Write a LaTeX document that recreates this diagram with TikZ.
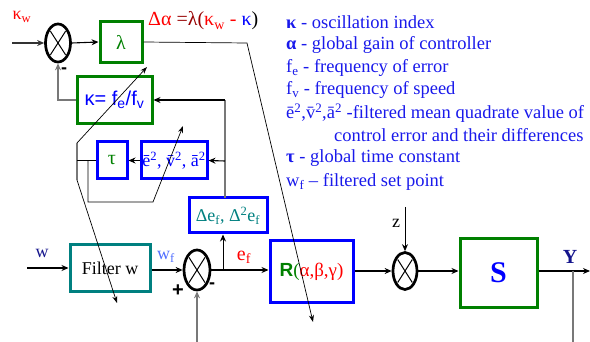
\documentclass[tikz,border=0pt]{standalone}
\usepackage{fontspec}
\setmainfont{Liberation Serif}
\newfontfamily\sansf{Liberation Sans}
\usetikzlibrary{arrows.meta,shapes.geometric,calc}
\definecolor{cgreen}{RGB}{0,128,0}
\definecolor{cteal}{RGB}{0,128,128}
\definecolor{cblue}{RGB}{0,0,255}
\definecolor{lgblue}{RGB}{25,25,235}
\definecolor{cred}{RGB}{255,0,0}
\definecolor{cdred}{RGB}{150,0,0}
\definecolor{cnavy}{RGB}{20,20,140}
\definecolor{clblue}{RGB}{80,110,255}
\definecolor{cgray}{RGB}{120,120,120}
\begin{document}
\begin{tikzpicture}[x=1pt,y=-1pt,
  >={Stealth[length=7pt,width=6pt]},
  every node/.style={inner sep=0pt},
  sumnode/.style={ellipse,draw,line width=2.7pt,minimum width=25pt,minimum height=38pt},
  blk/.style={draw,line width=3pt,font=\fontsize{18}{20}\selectfont},
  gbox/.style={blk,draw=cgreen},
  bbox/.style={blk,draw=cblue},
  conn/.style={line width=1.1pt,->},
  gline/.style={line width=1.1pt,draw=cgray},
  adj/.style={line width=0.7pt,->,>={Stealth[length=7pt,width=5pt]}},
  lg/.style={anchor=west,text=lgblue,font=\fontsize{18.5}{20}\selectfont},
  lab/.style={font=\fontsize{18}{20}\selectfont}]
\useasboundingbox (0,0) rectangle (590,342);

% ---------- top loop ----------
\node[lab,text=cred] (kw) at (22,17) {κ\textsubscript{w}};
\coordinate (kin) at (12,43);
\node[sumnode] (s1) at (58,43) {};
\node[gbox,minimum width=42pt,minimum height=41pt,text=cgreen,font=\fontsize{20}{22}\selectfont] (lam) at (121,42) {λ};
\node[anchor=west,font=\fontsize{20}{22}\selectfont] (form) at (148,21)
  {\textcolor{cred}{Δα} \textcolor{cdred}{=λ(}\textcolor{cred}{κ\textsubscript{w} -} \textcolor{cblue}{κ})};
\node[gbox,minimum width=75pt,minimum height=47pt,text=cblue,font=\sansf\fontsize{20}{22}\selectfont] (kap) at (114.5,100) {κ= f\textsubscript{e}/f\textsubscript{v}};
\node[font=\sansf\bfseries\fontsize{18}{20}\selectfont] (minus1) at (64,71) {-};

\node[bbox,minimum width=30pt,minimum height=37pt,text=cgreen,font=\fontsize{20}{22}\selectfont] (tau) at (112,160.5) {τ};
\node[bbox,minimum width=66pt,minimum height=37pt,text=cblue] (e2) at (174,160.5) {ē\textsuperscript{2}, v̄\textsuperscript{2}, ā\textsuperscript{2}};
\node[bbox,minimum width=78pt,minimum height=35pt,text=cteal] (de) at (228,215.5) {Δe\textsubscript{f}, Δ\textsuperscript{2}e\textsubscript{f}};

% ---------- main loop ----------
\node[lab,text=cnavy] (wl) at (42,253) {w};
\coordinate (win) at (27,268);
\node[blk,draw=cteal,minimum width=80pt,minimum height=47pt] (filt) at (110,268) {Filter w};
\node[lab,text=clblue] (wf) at (166,257) {w\textsubscript{f}};
\node[sumnode,minimum width=26pt,minimum height=40pt] (s2) at (197,270) {};
\node[font=\sansf\bfseries\fontsize{20}{22}\selectfont] (plus) at (178,291) {+};
\node[font=\sansf\bfseries\fontsize{18}{20}\selectfont] (minus2) at (212,286) {-};
\coordinate (s2in) at (197,342);
\node[font=\fontsize{20}{22}\selectfont,text=cred] (ef) at (244,257) {e\textsubscript{f}};
\node[bbox,minimum width=83pt,minimum height=62pt,font=\fontsize{19}{21}\selectfont] (R) at (311.5,272)
  {{\sansf\bfseries\textcolor{cgreen}{R}}\textcolor{cgreen}{(}\textcolor{cred}{α,β,γ)}};
\node[sumnode,minimum width=24pt,minimum height=37pt] (s3) at (405,271) {};
\node[lab] (z) at (396,223) {z};
\coordinate (zin) at (405,207);
\node[gbox,minimum width=77pt,minimum height=69pt,text=cblue,font=\bfseries\fontsize{30}{32}\selectfont] (S) at (498.5,273) {S};
\coordinate (yout) at (590,271);
\node[text=cnavy,font=\bfseries\fontsize{20}{22}\selectfont] (Y) at (570,257) {Y};
\coordinate (ytap) at (573,271);
\coordinate (ybot) at (573,342);

% crosses in summing points
\foreach \s/\a/\b in {s1/7.6/11.8, s2/8/12.6, s3/7.3/11.5}{
  \draw[line width=1pt] ($(\s.center)+(-\a,-\b)$) -- ($(\s.center)+(\a,\b)$)
                        ($(\s.center)+(-\a,\b)$) -- ($(\s.center)+(\a,-\b)$);
}

% ---------- connectors ----------
\draw[conn,draw=black!80] (kin) -- (s1.west);
\draw[conn] (s1.east) -- (lam.west);
\coordinate (dbend) at (247,43);
\coordinate (dend) at (313,322);
\draw[adj] (lam.east) -- (dbend) -- (dend);
\draw[gline,->] (kap.west) -| (s1.south);

\coordinate (vtop) at (225,100);
\coordinate (vmid) at (225,161);
\coordinate (vbot) at (225,198);
\draw[gline] (vbot) -- (vtop);
\draw[line width=1.1pt,->] (vtop) -- (kap.east);
\draw[line width=1.1pt,->] (vmid) -- (e2.east);
\draw[line width=1.1pt,->] (e2.west) -- (tau.east);

\coordinate (ja) at (77,143);
\coordinate (jb) at (77,180);
\coordinate (jm) at (77,160.5);
\coordinate (jc) at (88,160.5);
\draw[gline] (ja) -- (jb);
\draw[line width=0.8pt] (tau.west) -- (jm);
\draw[adj] (ja) -- (147,67);
\draw[adj] (jb) -- (117,303);
\draw[adj] (jc) -- (88,202) -- (153,202) -- (183,126);

\draw[conn] (win) -- (filt.west);
\draw[conn] (filt.east |- s2.west) -- (s2.west);
\draw[gline,->] (s2in) -- (s2.south);
\draw[conn] (s2.east) -- (s2.east -| R.west);
\coordinate (etap) at (223,270);
\draw[line width=1pt,->] (etap) -- (etap |- de.south);
\draw[conn] (R.east |- s3.west) -- (s3.west);
\draw[line width=0.9pt,->] (zin) -- (s3.north);
\draw[conn] (s3.east) -- (s3.east -| S.west);
\draw[conn] (S.east |- yout) -- (yout);
\draw[gline] (ytap) -- (ybot);

% ---------- legend ----------
\node[lg] (l1) at (286,22) {{\bfseries κ} - oscillation index};
\node[lg] (l2) at (286,45) {{\bfseries α} - global gain of controller};
\node[lg] (l3) at (286,68) {f\textsubscript{e} - frequency of error};
\node[lg] (l4) at (286,90) {f\textsubscript{v} - frequency of speed};
\node[lg] (l5) at (286,113) {ē\textsuperscript{2},v̄\textsuperscript{2},ā\textsuperscript{2} -filtered mean quadrate value of};
\node[lg] (l6) at (334,135) {control error and their differences};
\node[lg] (l7) at (286,158) {{\bfseries τ} - global time constant};
\node[lg] (l8) at (286,182) {w\textsubscript{f} – filtered set point};
\end{tikzpicture}
\end{document}
